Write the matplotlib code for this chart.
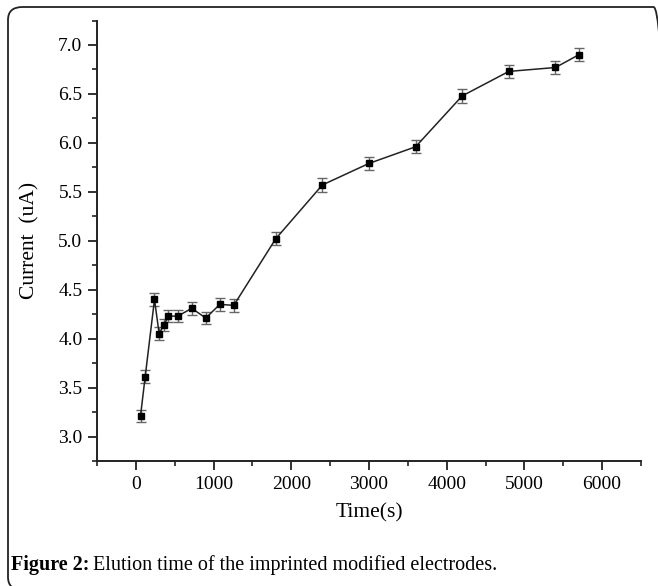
import matplotlib.pyplot as plt
from matplotlib.patches import FancyBboxPatch
from matplotlib.ticker import MultipleLocator

# elution time (s) vs current (uA)
time_s = [60, 120, 240, 300, 360, 420, 540, 720, 900, 1080, 1260,
          1800, 2400, 3000, 3600, 4200, 4800, 5400, 5700]
current = [3.21, 3.61, 4.40, 4.05, 4.14, 4.23, 4.23, 4.31, 4.21, 4.35, 4.34,
           5.02, 5.57, 5.79, 5.96, 6.48, 6.73, 6.77, 6.90]
err = [0.065, 0.065, 0.065, 0.065, 0.065, 0.065, 0.065, 0.065, 0.065, 0.065, 0.065,
       0.068, 0.068, 0.068, 0.068, 0.068, 0.068, 0.068, 0.068]

plt.rcParams['font.family'] = ['Liberation Serif', 'DejaVu Serif']

fig = plt.figure(figsize=(6.58, 5.86), dpi=100)
ax = fig.add_axes([0.1474, 0.2133, 0.8267, 0.7517])

ax.errorbar(time_s, current, yerr=err, color='#222222', lw=1.1,
            marker='s', ms=4.5, mfc='black', mec='black',
            ecolor='#666666', elinewidth=1.0, capsize=3.5, capthick=1.0)

ax.set_xlim(-500, 6500)
ax.set_ylim(2.75, 7.25)
ax.xaxis.set_major_locator(MultipleLocator(1000))
ax.xaxis.set_minor_locator(MultipleLocator(500))
ax.yaxis.set_major_locator(MultipleLocator(0.5))
ax.yaxis.set_minor_locator(MultipleLocator(0.25))
ax.yaxis.set_major_formatter(plt.FormatStrFormatter('%.1f'))

for s in ['top', 'right']:
    ax.spines[s].set_visible(False)
for s in ['left', 'bottom']:
    ax.spines[s].set_linewidth(1.4)
    ax.spines[s].set_color('#222222')

ax.tick_params(which='major', direction='out', length=6.5, width=1.3,
               labelsize=14, color='#222222', pad=4)
ax.tick_params(which='minor', direction='out', length=3.5, width=1.2,
               color='#222222')

ax.set_xlabel('Time(s)', fontsize=15.5, labelpad=8)
ax.set_ylabel('Current  (uA)', fontsize=15.5)
ax.yaxis.set_label_coords(-0.105, 0.5)

# rounded frame around the figure (runs off the right and bottom edges)
frame = FancyBboxPatch((8 / 658, -4 / 586), 660 / 658, 583 / 586,
                       boxstyle='round,pad=0,rounding_size=0.022',
                       transform=fig.transFigure, fill=False,
                       ec='#222222', lw=1.3, clip_on=False)
fig.patches.append(frame)

# caption
t1 = fig.text(11 / 658, 1 - 570 / 586, 'Figure 2:', fontsize=14.5,
              fontweight='bold', va='baseline', ha='left')
fig.canvas.draw()
bb = t1.get_window_extent()
fig.text(bb.x1 / fig.bbox.width + 0.006, 1 - 570 / 586,
         'Elution time of the imprinted modified electrodes.',
         fontsize=14.5, va='baseline', ha='left')

fig.savefig('out.png', dpi=100)
